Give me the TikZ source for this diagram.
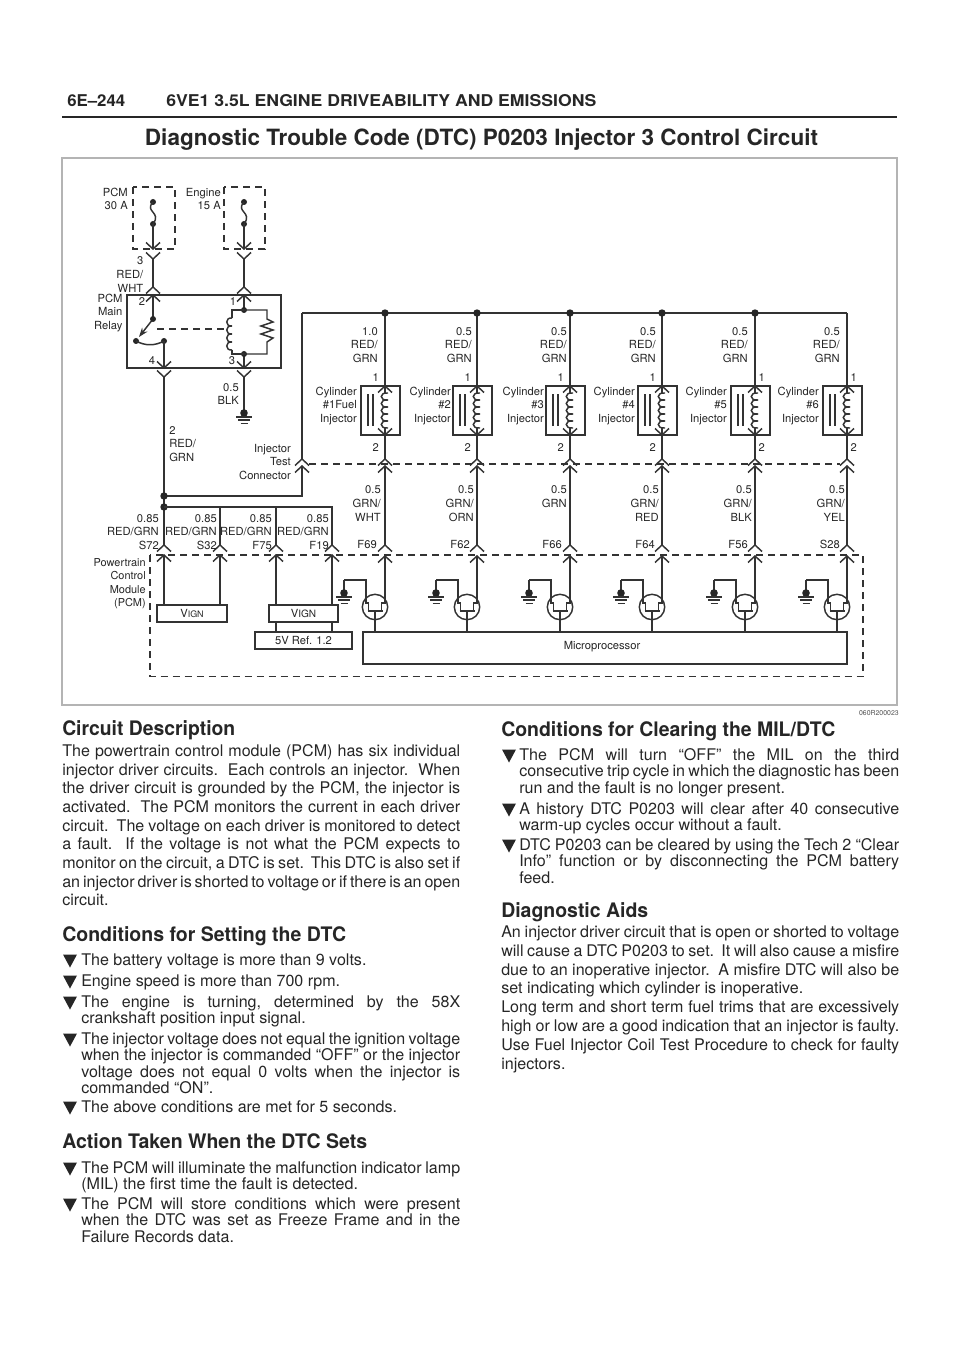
\documentclass[tikz,border=0pt]{standalone}
\usepackage{fontspec}
\usepackage{graphicx}
\setmainfont{TeX Gyre Heros}
\usetikzlibrary{arrows.meta}
\definecolor{ink}{HTML}{262626}
\definecolor{wirec}{HTML}{333333}
\definecolor{framec}{HTML}{B4B4B4}
\newlength\pxu \setlength\pxu{0.75pt}
\newlength\colw
\newcommand\labfont{\fontsize{8.4pt}{10.25pt}\selectfont}
\newcommand\bodyfont{\fontsize{12.05pt}{14pt}\selectfont}
\newcommand\headfont{\fontsize{15pt}{18pt}\selectfont\bfseries}
\newcommand\JL[1]{\hbox to\colw{\frenchspacing\spaceskip=.278em plus 1fil minus .2em\relax #1}}
\newcommand\NL[1]{\hbox{\frenchspacing #1}}
\newcommand\para[6]{\node[name=#1,anchor=base west,inner sep=0pt,text=ink,font=\bodyfont] at (#2,#3+5.5)
  {\setlength\colw{#4\pxu}\vtop{\baselineskip=#5\pxu\lineskiplimit=-100pt\relax #6}};}
\newcommand\bul[2]{\fill[ink] (#1,#2-5.5) -- (#1+14,#2-5.5) -- (#1+7,#2+7.5) -- cycle;}
\newcommand\heading[5]{\node[name=#1,anchor=base west,inner sep=0pt,text=ink,font=\headfont] at (#2,#3+7)
  {\resizebox{#4\pxu}{\height}{#5}};}
\tikzset{
 wire/.style={draw=wirec,line width=1.1pt},
 dashline/.style={draw=wirec,line width=1.1pt,dash pattern=on 5.6pt off 3.4pt},
 lab/.style={font=\labfont,text=ink,inner sep=0pt,align=right,anchor=east},
 labl/.style={font=\labfont,text=ink,inner sep=0pt,align=left,anchor=west},
 pinlab/.style={font=\labfont,text=ink,inner sep=0pt,anchor=center},
 boxn/.style={draw=wirec,line width=1.1pt,fill=white,inner sep=0pt,outer sep=0pt,font=\labfont,text=ink},
 dotm/.style={fill=black!85,draw=none},
 pics/chup/.style={code={\draw[wire] (-7,6.5) -- (0,0) -- (7,6.5);}},
 pics/chdn/.style={code={\draw[wire] (-7,-6.5) -- (0,0) -- (7,-6.5);}},
 pics/gnd/.style={code={
   \fill[dotm] (0,0) circle (3.8);
   \draw[wire] (-8,4) -- (8,4) (-6,7.2) -- (6,7.2) (-3.5,10.7) -- (3.5,10.7);}},
}
\begin{document}
\begin{tikzpicture}[x=0.75pt,y=-0.75pt]
\useasboundingbox (0,0) rectangle (960,1358);
% header
\node[name=pageno,anchor=base west,inner sep=0pt,text=ink,font=\fontsize{12.2pt}{14pt}\selectfont\bfseries] at (67,106.5) {\resizebox{58\pxu}{\height}{6E–244}};
\node[name=chapter,anchor=base west,inner sep=0pt,text=ink,font=\fontsize{12.2pt}{14pt}\selectfont\bfseries] at (166,106.5) {\resizebox{430\pxu}{\height}{6VE1 3.5L ENGINE DRIVEABILITY AND EMISSIONS}};
\coordinate (ruleL) at (62,117); \coordinate (ruleR) at (897,117);
\draw[draw=ink,line width=1.5pt] (ruleL) -- (ruleR);
\node[name=title,anchor=base,inner sep=0pt,text=ink,font=\fontsize{16.8pt}{20pt}\selectfont\bfseries] at (481.5,146) {\resizebox{673\pxu}{\height}{Diagnostic Trouble Code (DTC) P0203 Injector 3 Control Circuit}};
% frame
\draw[draw=framec,line width=1pt] (62,158) rectangle (897,705);
\node[name=figno,anchor=east,inner sep=0pt,text=ink!80,font=\fontsize{5.2pt}{6pt}\selectfont] at (899,713) {060R200023};

% fuses
\draw[dashline] (133,187) rectangle (175,249);
\draw[dashline] (224,187) rectangle (265,249);
\node[name=lfuseA,lab] at (128,199) {PCM\\30 A};
\node[name=lfuseB,lab] at (221,199) {Engine\\15 A};
\foreach \n/\x in {a/153,b/244}{
  \coordinate (fa\n) at (\x,202); \coordinate (fb\n) at (\x,224);
  \coordinate (fc\n) at (\x,249); \coordinate (fd\n) at (\x,259);
  \coordinate (fe\n) at (\x,287); \coordinate (ff\n) at (\x,295);
  \fill[dotm] (fa\n) circle (3); \fill[dotm] (fb\n) circle (3);
  \draw[wire] (fa\n) .. controls (\x-9,212) and (\x+9,212) .. (fb\n);
  \draw[wire] (fb\n) -- (fc\n);
  \draw[wire] (fd\n) -- (fe\n);
  \pic at (fc\n) {chdn}; \pic at (fd\n) {chdn};
  \pic at (fe\n) {chup}; \pic at (ff\n) {chup};
}
\node[name=lw3,lab] at (143.5,274.5) {3\\RED/\\WHT};
% relay
\draw[wire] (127,295) rectangle (281,368);
\node[name=lrelay,lab] at (122.7,313) {PCM\\Main\\Relay};
\node[name=pin2,pinlab] at (142,302) {2};
\node[name=pin1,pinlab] at (233,302) {1};
\node[name=pin4,pinlab] at (152,361) {4};
\node[name=pin3,pinlab] at (232,361) {3};
\coordinate (swA) at (153,319); \coordinate (swB) at (136,341); \coordinate (swC) at (164,341);
\coordinate (swD) at (164,368); \coordinate (swE) at (164,377);
\draw[wire] (ffa) -- (swA);
\draw[wire,-{Stealth[length=7pt,width=5pt]}] (swA) -- (139,337);
\fill[dotm] (swA) circle (3); \fill[dotm] (swB) circle (3); \fill[dotm] (swC) circle (3);
\draw[wire] (swB) .. controls (145,346) and (155,346) .. (swC);
\draw[wire] (swC) -- (swD);
\pic at (swD) {chdn}; \pic at (swE) {chdn};
\draw[dashline] (157,329) -- (225,329);
\coordinate (cT) at (244,310); \coordinate (cB) at (244,354);
\coordinate (cE) at (244,368); \coordinate (cF) at (244,377); \coordinate (gndB) at (244,413);
\draw[wire] (ffb) -- (cT) (cB) -- (cE);
\fill[dotm] (cT) circle (3); \fill[dotm] (cB) circle (3);
\draw[wire] (cT) -- (232,310) -- (232,318);
\foreach \k in {0,1,2,3}{\draw[wire] (232,318+\k*8) .. controls (225,317+\k*8) and (225,327+\k*8) .. (232,326+\k*8);}
\draw[wire] (232,350) -- (232,354) -- (cB);
\draw[wire,line join=miter] (cT) -- (267,310) -- (267,319) -- (273,322) -- (261,326) -- (273,330) -- (261,334) -- (273,338) -- (267,342) -- (267,354) -- (cB);
\pic at (cE) {chdn}; \pic at (cF) {chdn};
\draw[wire] (cF) -- (gndB);
\pic at (gndB) {gnd};
\node[name=lblk,lab] at (239,394) {0.5\\BLK};
\node[name=lw2,labl] at (169,444) {2\\RED/\\GRN};
% feed wires
\coordinate (j1) at (164,496); \coordinate (j2) at (164,507);
\coordinate (tcU) at (302,459); \coordinate (tcL) at (302,466); \coordinate (busL) at (302,313);
\coordinate (p1U) at (164,545); \coordinate (p2U) at (220,545); \coordinate (p3U) at (276,545); \coordinate (p4U) at (332,545);
\coordinate (p1L) at (164,555); \coordinate (p2L) at (220,555); \coordinate (p3L) at (276,555); \coordinate (p4L) at (332,555);
\draw[wire] (swE) -- (j1) -- (p1U);
\draw[wire] (j1) -- (j1 -| tcL) -- (tcL);
\fill[dotm] (j1) circle (3.7); \fill[dotm] (j2) circle (3.7);
\draw[wire] (j2) -- (j2 -| p4U) -- (p4U);
\draw[wire] (j2 -| p2U) -- (p2U);
\draw[wire] (j2 -| p3U) -- (p3U);
\draw[wire] (busL) -- (tcU);
\pic at (tcU) {chup}; \pic at (tcL) {chup};
\node[name=ltest,lab] at (291,462) {Injector\\Test\\Connector};
% PCM
\draw[dashline] (150,555) rectangle (863,676.5);
\node[name=lpcm,lab,font=\fontsize{8.2pt}{10.1pt}\selectfont] at (146,583.5) {Powertrain\\Control\\Module\\(PCM)};
\node[name=vignA,boxn,minimum width=52.5pt,minimum height=12.75pt] at (192,613.5) {V\scalebox{.8}{IGN}};
\node[name=vignB,boxn,minimum width=51.75pt,minimum height=12.75pt] at (303.5,613.5) {V\scalebox{.9}{IGN}};
\node[name=fivev,boxn,minimum width=72.75pt,minimum height=12.75pt] at (303.5,640.5) {5V Ref. 1.2};
\node[name=micro,boxn,minimum width=363pt,minimum height=24pt] at (605,648) {};
\node[name=lmicro,pinlab] at (602,647) {Microprocessor};
\foreach \i/\rx/\s in {1/159/S72,2/217/S32,3/272/F75,4/329/F19}{
  \pic at (p\i U) {chup}; \pic at (p\i L) {chup};
  \node[name=lp\i,lab] at (\rx,532) {0.85\\RED/GRN\\\s};
}
\draw[wire] (p1L) -- (p1L |- vignA.north);
\draw[wire] (p2L) -- (p2L |- vignA.north);
\draw[wire] (p3L) -- (p3L |- vignB.north);
\draw[wire] (p4L) -- (p4L |- vignB.north);
\draw[wire] (p3L |- vignB.south) -- (p3L |- fivev.north);
\draw[wire] (p4L |- vignB.south) -- (p4L |- fivev.north);
% injector columns
\draw[wire] (busL) -- (847,313);
\coordinate (tdL) at (309,464); \coordinate (tdR) at (840,464);
\draw[dashline] (tdL) -- (tdR);
\foreach \i/\xc/\xtr/\xpn/\xcy/\xgr/\xfr/\tup/\tcyl/\tlo/\tfc in {
 1/385/378/377/357/381/377/1.0/{Cylinder\\\#1Fuel\\Injector}/{0.5\\GRN/\\WHT}/F69,
 2/477/472/469/451/474/470/0.5/{Cylinder\\\#2\\Injector}/{0.5\\GRN/\\ORN}/F62,
 3/570/567/562/544/567/562/0.5/{Cylinder\\\#3\\Injector}/{0.5\\GRN\\\phantom{X}}/F66,
 4/662/656/654/635/659/655/0.5/{Cylinder\\\#4\\Injector}/{0.5\\GRN/\\RED}/F64,
 5/755/748/763/727/752/748/0.5/{Cylinder\\\#5\\Injector}/{0.5\\GRN/\\BLK}/F56,
 6/847/840/855/819/845/840/0.5/{Cylinder\\\#6\\Injector}/{0.5\\GRN/\\YEL}/S28}{
  \coordinate (bus\i) at (\xc,313);
  \coordinate (inA\i) at (\xc,386); \coordinate (inB\i) at (\xc,435);
  \coordinate (tU\i) at (\xc,459); \coordinate (tL\i) at (\xc,466);
  \coordinate (fU\i) at (\xc,545); \coordinate (fL\i) at (\xc,556);
  \draw[wire] (bus\i) -- (inA\i);
  \draw[wire] (\xc-24,386) rectangle (\xc+15,435);
  \pic at (inA\i) {chup};
  \pic at (inB\i) {chdn};
  \draw[wire] (inA\i) -- (\xc,393);
  \foreach \k in {0,1,2,3,4}{\draw[wire] (\xc+3,393+\k*7) .. controls (\xc-6,392+\k*7) and (\xc-6,401+\k*7) .. (\xc+3,400+\k*7);}
  \draw[wire] (\xc,428) -- (inB\i);
  \draw[wire] (\xc-17,394) -- (\xc-17,426) (\xc-12,394) -- (\xc-12,426);
  \draw[wire] (inB\i) -- (tU\i) (tL\i) -- (fU\i);
  \pic at (tU\i) {chup}; \pic at (tL\i) {chup};
  \pic at (fU\i) {chup}; \pic at (fL\i) {chup};
  \node[name=lred\i,lab] at (\xtr,345) {\tup\\RED/\\GRN};
  \node[name=lcyl\i,lab] at (\xcy,406) {\tcyl};
  \node[name=lpa\i,lab] at (\xpn+2,378) {1};
  \node[name=lpb\i,lab] at (\xpn+2,448) {2};
  \node[name=lgrn\i,lab] at (\xgr,503.5) {\tlo};
  \node[name=lf\i,lab] at (\xfr,544) {\tfc};
  % driver
  \coordinate (gL\i) at (\xc-19,580); \coordinate (gG\i) at (\xc-41,580);
  \coordinate (gate\i) at (\xc-10,611);
  \draw[wire] (\xc-10,607) circle (12.7);
  \draw[wire] (fL\i) -- (\xc,603) -- (\xc-3.5,603) -- (\xc-3.5,611);
  \draw[wire] (gG\i) -- (gL\i) -- (\xc-19,603) -- (\xc-16.5,603) -- (\xc-16.5,611);
  \draw[wire] (gG\i) -- (\xc-41,593);
  \pic at (\xc-41,593) {gnd};
  \draw[draw=wirec,line width=2.2pt] (\xc-17.5,611) -- (\xc-2.5,611);
  \draw[wire] (gate\i) -- (gate\i |- micro.north);
}
\foreach \i in {1,2,3,4,5}{\fill[dotm] (bus\i) circle (3.7);}

% text
\heading{hA}{62}{728}{173}{Circuit Description}
\para{pA}{62}{751}{398}{18.65}{%
\JL{The powertrain control module (PCM) has six individual}%
\JL{injector driver circuits.\ \ Each controls an injector.\ \ When}%
\JL{the driver circuit is grounded by the PCM, the injector is}%
\JL{activated.\ \ The PCM monitors the current in each driver}%
\JL{circuit.\ \ The voltage on each driver is monitored to detect}%
\JL{a fault.\ \ If the voltage is not what the PCM expects to}%
\JL{monitor on the circuit, a DTC is set.\ \ This DTC is also set if}%
\JL{an injector driver is shorted to voltage or if there is an open}%
\NL{circuit.}}
\heading{hB}{62}{934}{284}{Conditions for Setting the DTC}
\bul{63}{960}\para{b1}{81}{960}{379}{16.3}{\NL{The battery voltage is more than 9 volts.}}
\bul{63}{981}\para{b2}{81}{981}{379}{16.3}{\NL{Engine speed is more than 700 rpm.}}
\bul{63}{1002}\para{b3}{81}{1002}{379}{16.3}{\JL{The engine is turning, determined by the 58X}\NL{crankshaft position input signal.}}
\bul{63}{1039}\para{b4}{81}{1039}{379}{16.3}{\JL{The injector voltage does not equal the ignition voltage}\JL{when the injector is commanded “OFF” or the injector}\JL{voltage does not equal 0 volts when the injector is}\NL{commanded “ON”.}}
\bul{63}{1107}\para{b5}{81}{1107}{379}{16.3}{\NL{The above conditions are met for 5 seconds.}}
\heading{hC}{62}{1141}{305}{Action Taken When the DTC Sets}
\bul{63}{1168}\para{b6}{81}{1168}{379}{16.3}{\JL{The PCM will illuminate the malfunction indicator lamp}\NL{(MIL) the first time the fault is detected.}}
\bul{63}{1204}\para{b7}{81}{1204}{379}{16.3}{\JL{The PCM will store conditions which were present}\JL{when the DTC was set as Freeze Frame and in the}\NL{Failure Records data.}}
\heading{hD}{501}{729}{334}{Conditions for Clearing the MIL/DTC}
\bul{502}{755}\para{c1}{519}{755}{380}{16.3}{\JL{The PCM will turn “OFF” the MIL on the third}\JL{consecutive trip cycle in which the diagnostic has been}\NL{run and the fault is no longer present.}}
\bul{502}{809}\para{c2}{519}{809}{380}{16.3}{\JL{A history DTC P0203 will clear after 40 consecutive}\NL{warm-up cycles occur without a fault.}}
\bul{502}{845}\para{c3}{519}{845}{380}{16.3}{\JL{DTC P0203 can be cleared by using the Tech 2 “Clear}\JL{Info” function or by disconnecting the PCM battery}\NL{feed.}}
\heading{hE}{501}{910}{147}{Diagnostic Aids}
\para{pB}{501}{932}{398}{18.8}{%
\JL{An injector driver circuit that is open or shorted to voltage}%
\JL{will cause a DTC P0203 to set.\ \ It will also cause a misfire}%
\JL{due to an inoperative injector.\ \ A misfire DTC will also be}%
\NL{set indicating which cylinder is inoperative.}%
\JL{Long term and short term fuel trims that are excessively}%
\JL{high or low are a good indication that an injector is faulty.}%
\JL{Use Fuel Injector Coil Test Procedure to check for faulty}%
\NL{injectors.}}
\end{tikzpicture}
\end{document}
